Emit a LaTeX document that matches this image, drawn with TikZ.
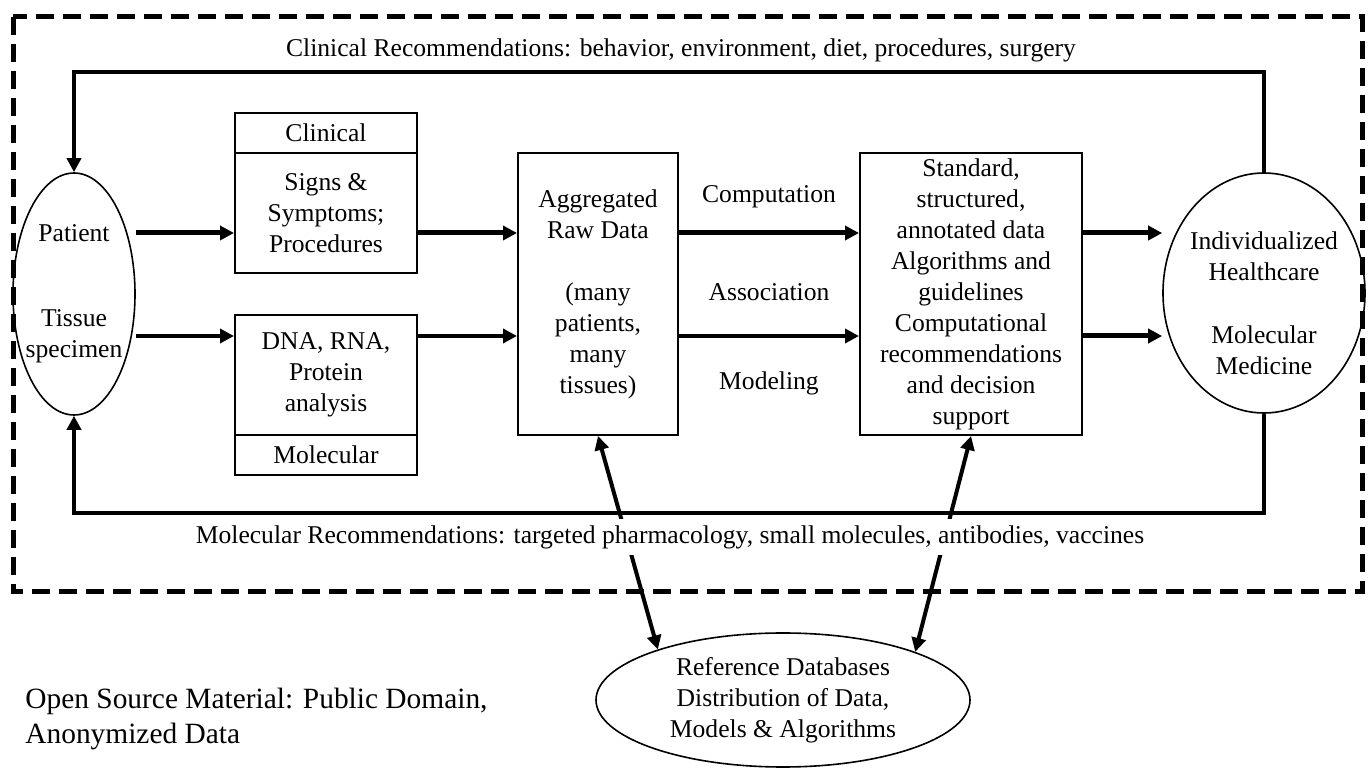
\documentclass[tikz,border=0pt]{standalone}
\usepackage{fontspec}
\setmainfont{Liberation Serif}
\usetikzlibrary{shapes.geometric,arrows.meta}

\begin{document}
\begin{tikzpicture}[x=0.5pt, y=-0.5pt, >={Triangle[length=7pt,width=7pt]},
    every node/.style={font=\fontsize{12.8}{15.5}\selectfont, align=center, inner sep=0pt},
    box/.style={draw, line width=1pt, minimum width=91pt},
    oval/.style={ellipse, draw, line width=0.8pt},
    bigflow/.style={->, line width=2.5pt},
    smallflow/.style={->, line width=1.7pt},
    rail/.style={line width=2pt},
    frame/.style={line width=2.5pt, dash pattern=on 9pt off 4.5pt}]
    % 1. Rahmen
    \useasboundingbox (0,0) rectangle (1372,769);
    \draw[frame] (13,17) rectangle (1362,592);

    % 2. Knoten
    \node[oval, minimum width=61pt, minimum height=121pt] (src) at (74,294) {};
    \node (patient) at (74,233) {Patient};
    \node (tissue) at (74,336) {Tissue\\specimen};

    \node[box, minimum height=20pt] (clinhead) at (326,133) {Clinical};
    \node[box, minimum height=60pt] (clinbody) at (326,213) {Signs \&\\Symptoms;\\Procedures};
    \node[box, minimum height=60pt] (molbody) at (326,375) {DNA, RNA,\\Protein\\analysis};
    \node[box, minimum height=20pt] (molhead) at (326,455) {Molecular};

    \node[box, minimum width=80pt, minimum height=141pt] (aggr) at (598,294)
        {Aggregated\\Raw Data\\[15.5pt](many\\patients,\\many\\tissues)};
    \node[box, minimum width=111pt, minimum height=141pt] (std) at (971,294)
        {Standard,\\structured,\\annotated data\\Algorithms and\\guidelines\\Computational\\recommendations\\and decision\\support};

    \node[oval, minimum width=101pt, minimum height=120pt] (out) at (1264,293) {};
    \node (outtop) at (1264,256) {Individualized\\Healthcare};
    \node (outbot) at (1264,350) {Molecular\\Medicine};

    \node (comp) at (769,197) {Computation};
    \node (assoc) at (769,292) {Association};
    \node (model) at (769,383) {Modeling};

    \node (clinrec) at (681,50) {Clinical Recommendations: behavior, environment, diet, procedures, surgery};

    \node[oval, minimum width=187pt, minimum height=67pt] (refdb) at (783,700)
        {Reference Databases\\Distribution of Data,\\Models \& Algorithms};
    \node[font=\fontsize{14.7}{17.5}\selectfont, align=left, anchor=west] (opensrc) at (25,719)
        {Open Source Material: Public Domain,\\Anonymized Data};

    % 3. Pfeile
    \draw[bigflow] (patient -| src.east) -- (patient -| clinbody.west);
    \draw[smallflow] (tissue -| src.east) -- (tissue -| molbody.west);
    \draw[bigflow] (patient -| clinbody.east) -- (patient -| aggr.west);
    \draw[smallflow] (tissue -| molbody.east) -- (tissue -| aggr.west);
    \draw[bigflow] (patient -| aggr.east) -- (patient -| std.west);
    \draw[smallflow] (tissue -| aggr.east) -- (tissue -| std.west);
    \draw[bigflow] (patient -| std.east) -- (patient -| out.west);
    \draw[bigflow] (tissue -| std.east) -- (tissue -| out.west);

    % 4. Rueckkopplung
    \coordinate (toprail) at (74,72);
    \coordinate (botrail) at (74,513);
    \draw[rail, ->] (out.north) |- (toprail) -- (src.north);
    \draw[rail, ->] (out.south) |- (botrail) -- (src.south);
    \draw[rail, <->] (aggr.south) -- (refdb.158);
    \draw[rail, <->] (std.south) -- (refdb.20);

    \node[fill=white, inner ysep=3pt] (molrec) at (670,537)
        {Molecular Recommendations: targeted pharmacology, small molecules, antibodies, vaccines};
\end{tikzpicture}
\end{document}
